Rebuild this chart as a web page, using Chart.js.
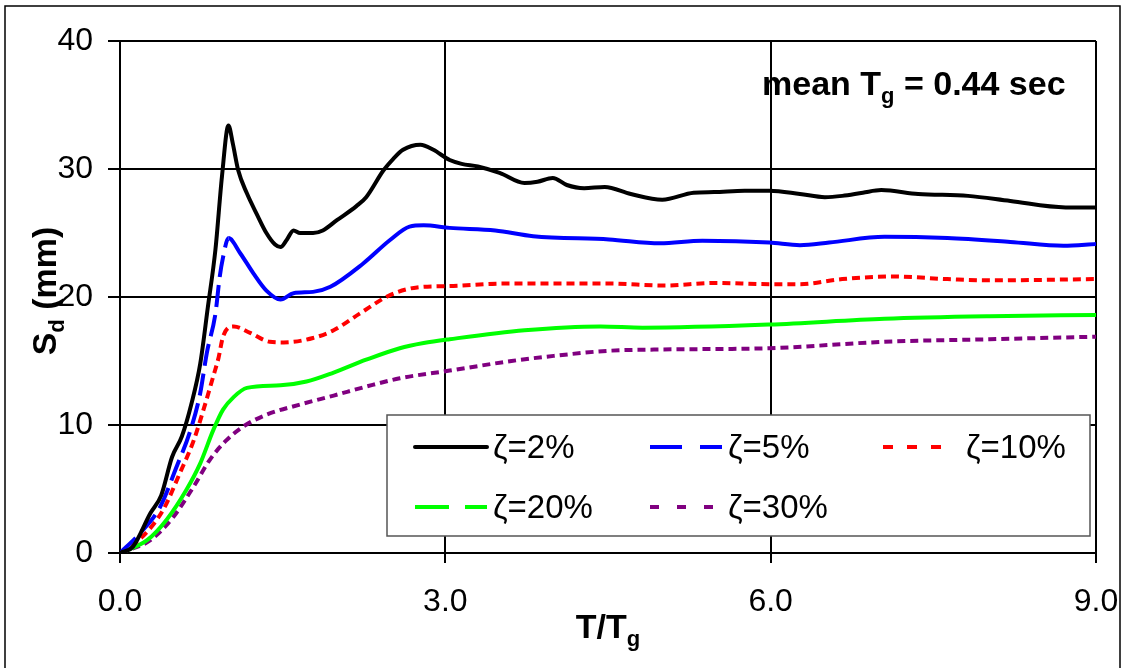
<!DOCTYPE html>
<html>
<head>
<meta charset="utf-8">
<script src="https://cdn.jsdelivr.net/npm/chart.js"></script>
<style>
  html, body { margin: 0; padding: 0; background: #fff; }
  canvas { display: block; }
</style>
</head>
<body>
<canvas id="chart" width="1126" height="668"></canvas>
<script>
// T/Tg and Sd (mm), one pair of arrays per damping ratio
const x2 = [0, 0.12, 0.28, 0.38, 0.48, 0.57, 0.66, 0.74, 0.81, 0.88, 0.94, 1.0, 1.04, 1.09, 1.17, 1.26, 1.35, 1.43, 1.48, 1.54, 1.6, 1.66, 1.78, 1.87, 2.0, 2.18, 2.27, 2.43, 2.52, 2.61, 2.77, 2.89, 3.04, 3.15, 3.3, 3.5, 3.73, 3.85, 3.99, 4.12, 4.28, 4.47, 4.71, 5.0, 5.29, 5.48, 5.76, 5.99, 6.27, 6.5, 6.66, 6.85, 7.02, 7.36, 7.82, 8.21, 8.72, 9.0];
const y2 = [0, 0.5, 3.1, 4.5, 7.5, 9.1, 11.7, 14.8, 19.2, 23.7, 29.4, 33.4, 32.0, 29.9, 28.1, 26.5, 25.0, 24.1, 23.9, 24.5, 25.2, 25.0, 25.0, 25.2, 26.0, 27.1, 27.8, 29.9, 30.8, 31.5, 31.9, 31.5, 30.7, 30.4, 30.2, 29.7, 28.9, 29.0, 29.3, 28.75, 28.5, 28.6, 28.05, 27.6, 28.15, 28.2, 28.3, 28.3, 28.05, 27.8, 27.9, 28.15, 28.35, 28.05, 27.9, 27.5, 27.0, 27.0];

const x5 = [0, 0.18, 0.37, 0.52, 0.65, 0.74, 0.8, 0.88, 0.92, 0.95, 1.0, 1.11, 1.23, 1.35, 1.48, 1.6, 1.78, 1.94, 2.24, 2.49, 2.67, 2.8, 3.04, 3.46, 3.81, 4.51, 4.98, 5.37, 5.99, 6.27, 6.54, 7.05, 7.63, 8.21, 8.7, 9.0];
const y5 = [0, 1.5, 3.6, 6.7, 9.6, 12.5, 15.6, 18.7, 21.6, 23.1, 24.6, 23.4, 21.85, 20.5, 19.8, 20.3, 20.4, 20.8, 22.6, 24.45, 25.5, 25.6, 25.4, 25.2, 24.75, 24.5, 24.2, 24.4, 24.25, 24.05, 24.25, 24.7, 24.6, 24.3, 24.0, 24.15];

const x10 = [0, 0.21, 0.4, 0.55, 0.68, 0.77, 0.86, 0.91, 0.95, 1.05, 1.2, 1.38, 1.51, 1.78, 1.97, 2.21, 2.49, 2.74, 3.04, 3.54, 4.51, 5.02, 5.48, 5.99, 6.27, 6.66, 7.12, 7.63, 8.02, 9.0];
const y10 = [0, 1.3, 3.4, 6.2, 8.8, 11.2, 13.8, 15.3, 16.9, 17.7, 17.2, 16.5, 16.45, 16.8, 17.4, 18.7, 20.15, 20.75, 20.85, 21.05, 21.05, 20.9, 21.1, 21.0, 21.0, 21.4, 21.6, 21.4, 21.3, 21.4];

const x20 = [0, 0.25, 0.43, 0.61, 0.74, 0.86, 0.95, 1.05, 1.17, 1.48, 1.72, 1.97, 2.27, 2.58, 2.8, 3.04, 3.73, 4.43, 4.82, 5.99, 7.05, 8.02, 9.0];
const y20 = [0, 1.0, 2.6, 4.9, 7.0, 9.6, 11.2, 12.2, 12.9, 13.1, 13.4, 14.1, 15.1, 16.0, 16.4, 16.7, 17.4, 17.7, 17.6, 17.85, 18.3, 18.5, 18.6];

const x30 = [0, 0.28, 0.49, 0.68, 0.83, 0.98, 1.14, 1.35, 1.66, 1.97, 2.27, 2.58, 3.04, 3.61, 4.0, 4.51, 5.0, 5.99, 7.05, 8.02, 9.0];
const y30 = [0, 1.0, 2.8, 5.2, 7.3, 8.8, 9.9, 10.8, 11.6, 12.3, 13.0, 13.65, 14.25, 15.0, 15.4, 15.8, 15.9, 16.0, 16.5, 16.7, 16.9];

const seriesLabels = ['ζ=2%', 'ζ=5%', 'ζ=10%', 'ζ=20%', 'ζ=30%'];
const xTicks = [0, 3, 6, 9];
const yTicks = [0, 10, 20, 30, 40];

const FONT = '"Liberation Sans", Arial, sans-serif';

const pts = (xs, ys) => xs.map((x, i) => ({ x: x, y: ys[i] }));

// legend sample styles (dash patterns as drawn in the legend box)
const legendItems = [
    { text: seriesLabels[0], color: '#000000', dash: [], x: 415, y: 447 },
    { text: seriesLabels[1], color: '#0000ff', dash: [32, 18], x: 650, y: 447 },
    { text: seriesLabels[2], color: '#ff0000', dash: [10, 14], x: 883, y: 447, textX: 966 },
    { text: seriesLabels[3], color: '#00ff00', dash: [34, 16], x: 415, y: 507 },
    { text: seriesLabels[4], color: '#800080', dash: [9, 18], x: 650, y: 507 }
];

function drawSub(ctx, parts, x, y, align) {
    // parts: [text, isSub]
    let total = 0;
    parts.forEach(p => {
        ctx.font = p[1] ? 'bold 22px ' + FONT : 'bold 34px ' + FONT;
        total += ctx.measureText(p[0]).width;
    });
    let cx = align === 'center' ? x - total / 2 : x;
    parts.forEach(p => {
        ctx.font = p[1] ? 'bold 22px ' + FONT : 'bold 34px ' + FONT;
        ctx.fillText(p[0], cx, p[1] ? y + 8 : y);
        cx += ctx.measureText(p[0]).width;
    });
}

const extras = {
    id: 'extras',
    beforeDraw(chart) {
        const ctx = chart.ctx;
        ctx.save();
        ctx.fillStyle = '#fff';
        ctx.fillRect(0, 0, chart.width, chart.height);
        ctx.strokeStyle = '#000';
        ctx.lineWidth = 1.5;
        ctx.strokeRect(5, 6, 1115, 680);
        ctx.restore();
    },
    afterDraw(chart) {
        const ctx = chart.ctx;
        ctx.save();
        ctx.fillStyle = '#000';
        ctx.textBaseline = 'alphabetic';

        // annotation
        drawSub(ctx, [['mean T', false], ['g', true], [' = 0.44 sec', false]], 762, 95, 'left');

        // x axis title
        drawSub(ctx, [['T/T', false], ['g', true]], 608, 638, 'center');

        // y axis title (rotated)
        ctx.save();
        ctx.translate(56, 291);
        ctx.rotate(-Math.PI / 2);
        drawSub(ctx, [['S', false], ['d', true], [' (mm)', false]], 0, 0, 'center');
        ctx.restore();

        // legend box
        ctx.fillStyle = '#fff';
        ctx.fillRect(387, 415, 703, 121);
        ctx.strokeStyle = '#555';
        ctx.lineWidth = 1.5;
        ctx.strokeRect(387, 415, 703, 121);

        ctx.font = '33px ' + FONT;
        ctx.textBaseline = 'middle';
        legendItems.forEach(it => {
            ctx.beginPath();
            ctx.setLineDash(it.dash);
            ctx.lineCap = it.dash.length ? 'butt' : 'round';
            ctx.strokeStyle = it.color;
            ctx.lineWidth = 4;
            ctx.moveTo(it.x, it.y);
            ctx.lineTo(it.x + 72, it.y);
            ctx.stroke();
            ctx.setLineDash([]);
            ctx.fillStyle = '#000';
            ctx.fillText(it.text, it.textX || it.x + 78, it.y + 2);
        });
        ctx.restore();
    }
};

new Chart(document.getElementById('chart'), {
    type: 'line',
    data: {
        datasets: [
            { label: seriesLabels[0], data: pts(x2, y2), borderColor: '#000000', borderWidth: 4 },
            {
                label: seriesLabels[1], data: pts(x5, y5), borderColor: '#0000ff', borderWidth: 4,
                segment: { borderDash: c => c.p1.parsed.x <= 1.0 ? [22, 8] : undefined }
            },
            { label: seriesLabels[2], data: pts(x10, y10), borderColor: '#ff0000', borderWidth: 4, borderDash: [8, 5] },
            { label: seriesLabels[3], data: pts(x20, y20), borderColor: '#00ff00', borderWidth: 4 },
            { label: seriesLabels[4], data: pts(x30, y30), borderColor: '#800080', borderWidth: 4, borderDash: [8, 5] }
        ]
    },
    options: {
        responsive: false,
        animation: false,
        layout: { padding: { top: 41, right: 30, left: 0, bottom: 0 } },
        elements: {
            point: { radius: 0 },
            line: { cubicInterpolationMode: 'monotone', borderCapStyle: 'butt', borderJoinStyle: 'round', fill: false }
        },
        plugins: { legend: { display: false }, tooltip: { enabled: false } },
        scales: {
            x: {
                type: 'linear', min: 0, max: 9,
                afterFit: s => { s.height = 115; s.paddingLeft = 0; s.paddingRight = 0; },
                afterBuildTicks: s => { s.ticks = xTicks.map(v => ({ value: v })); },
                ticks: { color: '#000', font: { family: FONT, size: 32 }, padding: 20, maxRotation: 0, callback: v => v.toFixed(1) },
                grid: { color: '#000', lineWidth: 2, tickLength: 10, tickColor: '#000' },
                border: { color: '#000', width: 2 }
            },
            y: {
                min: 0, max: 40,
                afterFit: s => { s.width = 120; s.paddingTop = 0; s.paddingBottom = 0; },
                afterBuildTicks: s => { s.ticks = yTicks.map(v => ({ value: v })); },
                ticks: { color: '#000', font: { family: FONT, size: 32 }, padding: 15 },
                grid: { color: '#000', lineWidth: 2, tickLength: 12, tickColor: '#000' },
                border: { color: '#000', width: 2 }
            }
        }
    },
    plugins: [extras]
});
</script>
</body>
</html>
